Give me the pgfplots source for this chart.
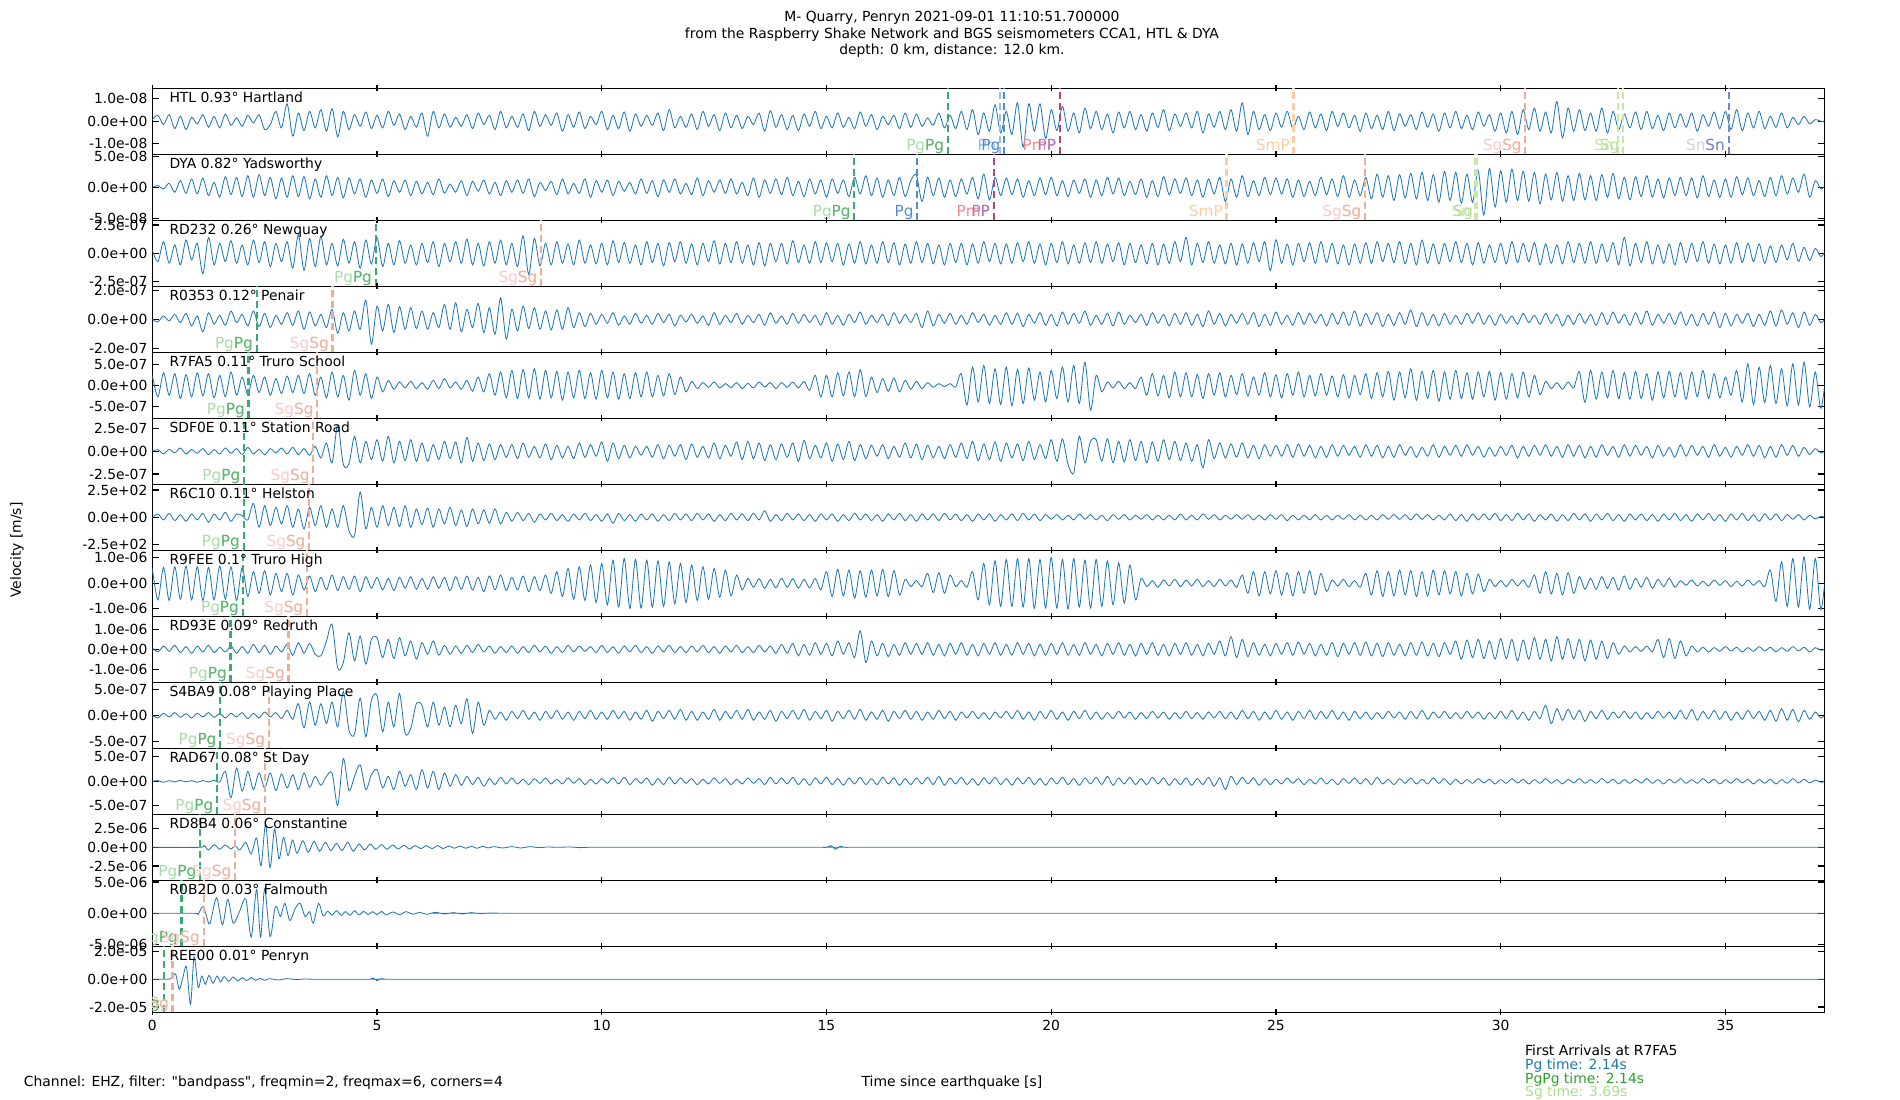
\documentclass[border=0pt]{standalone}
\usepackage{pgfplots}
\pgfplotsset{compat=1.18}
\usepackage{pgfplotstable}
\usepackage{fontspec}
\setmainfont{DejaVu Sans}
\newfontfamily\rawfont{DejaVu Sans}[Ligatures=TeXOff]
\definecolor{tblue}{RGB}{31,119,180}
\definecolor{gline}{RGB}{60,170,110}
\definecolor{gtxtL}{RGB}{165,220,165}
\definecolor{gtxtD}{RGB}{95,180,115}
\definecolor{sline}{RGB}{235,175,150}
\definecolor{stxtL}{RGB}{252,200,200}
\definecolor{stxtD}{RGB}{238,182,160}
\definecolor{pbl}{RGB}{80,140,200}
\definecolor{pblL}{RGB}{150,190,230}
\definecolor{pmpL}{RGB}{240,135,145}
\definecolor{ppc}{RGB}{175,120,190}
\definecolor{pmpline}{RGB}{175,70,130}
\definecolor{smp}{RGB}{253,205,160}
\definecolor{sgL}{RGB}{200,232,170}
\definecolor{sgD}{RGB}{180,222,150}
\definecolor{snL}{RGB}{215,205,235}
\definecolor{snD}{RGB}{115,140,190}
\definecolor{pgpgfoot}{RGB}{44,160,44}
\definecolor{sgfoot}{RGB}{170,222,140}
\tikzset{
  lab/.style={anchor=base east,inner sep=0pt,xshift=-2.5pt,yshift=2.6pt,font=\fontsize{11}{13}\selectfont},
  stname/.style={anchor=base west,inner sep=0pt,xshift=12.2pt,yshift=-10.2pt},
}
\pgfplotsset{
  panel/.style={
    scale only axis,width=1203.8pt,height=47.52pt,
    xmin=0,xmax=37.2,ymin=-100,ymax=100,
    anchor=north west,
    axis line style={line width=0.8pt},
    every tick/.style={black,line width=0.8pt},
    major tick length=4.5pt,
    xtick={0,5,10,15,20,25,30,35},xticklabels={},
    xtick pos=both,xtick align=center,
    ytick pos=both,ytick align=inside,
    font=\fontsize{10}{12}\selectfont,
    tick label style={font=\fontsize{10}{12}\selectfont},
  },
  trace/.style={tblue,line width=0.6pt,no markers,smooth,tension=0.5},
  gl/.style={gline,line width=1.5pt,dash pattern=on 5.5pt off 2.4pt},
  sl/.style={sline,line width=1.5pt,dash pattern=on 5.5pt off 2.4pt},
  vl/.style={line width=1.5pt,dash pattern=on 5.5pt off 2.4pt},
}
\newcommand{\pgsg}[2]{%
  \addplot[gl] coordinates {(#1,-100)(#1,100)};
  \addplot[sl] coordinates {(#2,-100)(#2,100)};
  \node[lab,text=gtxtL] at (axis cs:#1,-100) {PgPg};
  \node[lab,text=gtxtD] at (axis cs:#1,-100) {Pg};
  \node[lab,text=stxtL] at (axis cs:#2,-100) {SgSg};
  \node[lab,text=stxtD] at (axis cs:#2,-100) {Sg};}

% sampled every 0.125 s, amplitudes in percent of half panel height
\pgfplotstableread[header=false,row sep=\\]{
5\\18\\-10\\20\\-22\\15\\-25\\12\\
-8\\20\\-18\\15\\-20\\22\\-12\\10\\
-15\\18\\-5\\20\\-25\\-10\\30\\-20\\
53\\-45\\25\\-28\\30\\-20\\35\\-30\\
38\\-47\\30\\-25\\20\\-15\\28\\-22\\
18\\-20\\30\\-12\\22\\-25\\15\\-18\\
25\\-45\\30\\-20\\22\\-18\\12\\-15\\
20\\-22\\25\\-10\\18\\-25\\30\\-20\\
15\\-18\\22\\-28\\30\\-15\\20\\-12\\
25\\-30\\20\\-18\\28\\-22\\15\\-10\\
30\\-25\\18\\-22\\28\\-30\\22\\-15\\
18\\-12\\25\\-28\\35\\-20\\15\\-18\\
22\\-25\\30\\-15\\20\\-28\\25\\-20\\
18\\-22\\15\\-10\\25\\-30\\32\\-18\\
20\\-25\\18\\-28\\22\\-15\\30\\-22\\
15\\-20\\25\\-18\\12\\-22\\28\\-15\\
20\\-25\\15\\-10\\18\\-22\\25\\-18\\
22\\-15\\10\\-12\\25\\-20\\18\\-22\\
30\\-25\\35\\-40\\25\\-30\\50\\-35\\
30\\-40\\56\\-78\\53\\-30\\53\\-52\\
35\\-28\\45\\-30\\25\\-35\\40\\-22\\
30\\-25\\22\\-35\\28\\-20\\30\\-25\\
20\\-30\\25\\-18\\35\\-28\\22\\-15\\
25\\-20\\30\\-35\\22\\-18\\30\\-25\\
35\\-30\\56\\-40\\30\\-25\\20\\-28\\
25\\-18\\30\\-22\\15\\-25\\28\\-20\\
22\\-28\\30\\-15\\25\\-20\\18\\-30\\
25\\-22\\18\\-25\\30\\-28\\22\\-15\\
20\\-25\\28\\-18\\22\\-30\\25\\-20\\
30\\-22\\18\\-25\\28\\-15\\20\\-30\\
25\\-35\\30\\-40\\35\\-25\\40\\-30\\
28\\-35\\60\\-50\\40\\-30\\35\\-28\\
25\\-30\\40\\-35\\30\\-25\\22\\-20\\
28\\-25\\30\\-22\\18\\-28\\25\\-20\\
22\\-18\\25\\-30\\20\\-15\\28\\-22\\
30\\-25\\35\\-28\\25\\-20\\30\\-22\\
15\\-18\\25\\-20\\12\\-10\\15\\-8\\
5\\0\\-3\\
}\htl
\pgfplotstableread[header=false,row sep=\\]{
0\\5\\-5\\12\\-15\\20\\-18\\25\\
-20\\28\\-25\\15\\-30\\32\\-22\\30\\
-28\\35\\-30\\38\\-25\\30\\-35\\28\\
-30\\35\\-28\\32\\-35\\25\\-30\\35\\
-25\\30\\-32\\28\\-20\\25\\-30\\22\\
-18\\25\\-28\\20\\-15\\22\\-25\\18\\
-20\\15\\-22\\25\\-18\\10\\-15\\20\\
-25\\18\\-12\\22\\-20\\15\\-25\\20\\
-15\\22\\-18\\25\\-28\\15\\-10\\18\\
-22\\25\\-20\\12\\-18\\25\\-30\\20\\
-15\\22\\-25\\18\\-12\\15\\-20\\25\\
-18\\20\\-28\\22\\-15\\25\\-20\\12\\
-22\\28\\-25\\20\\-15\\22\\-18\\25\\
-20\\15\\-25\\28\\-30\\22\\-18\\25\\
-22\\30\\-25\\18\\-28\\25\\-20\\22\\
-30\\25\\-18\\22\\-28\\30\\-20\\35\\
-25\\28\\-30\\22\\-25\\30\\-28\\20\\
37\\-43\\30\\-25\\28\\-30\\22\\-28\\
25\\-20\\30\\-35\\40\\-38\\30\\-25\\
28\\-22\\25\\-30\\20\\-25\\28\\-22\\
30\\-25\\20\\-28\\22\\-18\\25\\-30\\
22\\-25\\30\\-20\\28\\-25\\18\\-22\\
25\\-30\\20\\-28\\32\\-22\\25\\-18\\
28\\-25\\22\\-30\\25\\-20\\30\\-43\\
25\\-30\\35\\-28\\20\\-25\\30\\-22\\
28\\-20\\25\\-30\\22\\-28\\18\\-25\\
30\\-22\\25\\-28\\35\\-30\\22\\-25\\
30\\-35\\40\\-30\\35\\-40\\38\\-32\\
42\\-35\\45\\-40\\38\\-45\\48\\-40\\
45\\-48\\40\\-45\\50\\-84\\57\\-60\\
50\\-45\\55\\-40\\48\\-42\\45\\-50\\
40\\-38\\45\\-42\\35\\-40\\42\\-38\\
35\\-40\\38\\-30\\42\\-35\\30\\-38\\
32\\-28\\35\\-30\\25\\-32\\28\\-25\\
30\\-25\\28\\-32\\35\\-28\\22\\-30\\
25\\-30\\32\\-22\\28\\-25\\20\\-28\\
30\\-25\\35\\-20\\28\\-15\\40\\-30\\
20\\-5\\10\\
}\dya
\pgfplotstableread[header=false,row sep=\\]{
10\\-25\\35\\-30\\25\\-35\\40\\-20\\
30\\-62\\48\\-35\\30\\-25\\38\\-30\\
25\\-35\\40\\-28\\35\\-40\\30\\-25\\
35\\-45\\56\\-52\\45\\-40\\50\\-35\\
30\\-38\\42\\-30\\35\\-45\\40\\-32\\
48\\-40\\30\\-35\\38\\-30\\25\\-35\\
30\\-28\\35\\-40\\30\\-25\\35\\-30\\
43\\-35\\30\\-38\\35\\-30\\40\\-35\\
30\\-40\\53\\-64\\45\\-38\\30\\-35\\
35\\-30\\28\\-35\\40\\-30\\25\\-32\\
30\\-35\\38\\-28\\32\\-30\\25\\-35\\
35\\-28\\30\\-38\\32\\-25\\35\\-30\\
28\\-35\\30\\-25\\38\\-32\\30\\-28\\
35\\-30\\25\\-35\\32\\-38\\30\\-25\\
30\\-32\\38\\-28\\25\\-30\\35\\-28\\
32\\-25\\30\\-35\\28\\-30\\35\\-32\\
25\\-30\\35\\-28\\32\\-35\\28\\-30\\
35\\-28\\30\\-32\\25\\-35\\30\\-28\\
30\\-35\\28\\-30\\35\\-25\\30\\-32\\
28\\-30\\32\\-25\\35\\-30\\28\\-35\\
30\\-28\\35\\-32\\25\\-30\\32\\-28\\
35\\-30\\28\\-25\\32\\-35\\30\\-28\\
25\\-32\\30\\-35\\28\\-30\\35\\-25\\
48\\-35\\30\\-28\\35\\-30\\25\\-32\\
30\\-35\\28\\-30\\32\\-25\\35\\-52\\
41\\-30\\28\\-35\\30\\-25\\32\\-30\\
35\\-28\\30\\-32\\25\\-35\\28\\-30\\
32\\-30\\35\\-25\\30\\-28\\35\\-32\\
30\\-35\\40\\-30\\28\\-32\\30\\-25\\
35\\-28\\30\\-35\\32\\-30\\25\\-28\\
30\\-32\\35\\-28\\30\\-25\\32\\-35\\
28\\-30\\25\\-32\\35\\-28\\30\\-30\\
35\\-30\\28\\-25\\32\\-35\\48\\-38\\
30\\-28\\35\\-32\\25\\-30\\28\\-35\\
32\\-28\\30\\-25\\35\\-30\\28\\-32\\
25\\-30\\32\\-28\\30\\-25\\28\\-30\\
22\\-28\\25\\-20\\30\\-25\\18\\-22\\
15\\-10\\12\\
}\rdtwo
\pgfplotstableread[header=false,row sep=\\]{
0\\-8\\10\\-5\\15\\-10\\18\\-20\\
10\\-38\\20\\-15\\12\\-18\\25\\-10\\
15\\-20\\25\\-22\\18\\-25\\12\\-15\\
20\\-18\\25\\-30\\22\\-20\\15\\-25\\
30\\-42\\20\\-35\\25\\-30\\58\\-75\\
40\\-35\\45\\-40\\38\\-30\\35\\-28\\
25\\-30\\20\\-25\\45\\-30\\50\\-38\\
30\\-25\\48\\-40\\35\\-45\\65\\-60\\
30\\-35\\40\\-28\\35\\-30\\25\\-32\\
28\\-30\\35\\-25\\20\\-22\\18\\-15\\
15\\-12\\20\\-18\\10\\-15\\18\\-12\\
12\\-15\\18\\-10\\15\\-20\\12\\-8\\
15\\-12\\10\\-18\\20\\-15\\12\\-10\\
18\\-15\\12\\-10\\15\\-18\\20\\-12\\
10\\-15\\18\\-12\\15\\-10\\12\\-18\\
20\\-15\\12\\-18\\15\\-10\\22\\-15\\
12\\-10\\15\\-18\\20\\-12\\15\\-10\\
18\\-25\\25\\-20\\15\\-12\\18\\-15\\
12\\-15\\20\\-10\\15\\-18\\12\\-15\\
20\\-15\\18\\-22\\15\\-12\\20\\-18\\
15\\-20\\22\\-15\\18\\-12\\25\\-18\\
12\\-15\\18\\-20\\22\\-15\\12\\-10\\
15\\-18\\20\\-12\\15\\-20\\18\\-15\\
20\\-18\\15\\-22\\25\\-15\\18\\-20\\
15\\-12\\18\\-15\\20\\-22\\15\\-18\\
22\\-15\\12\\-18\\20\\-15\\18\\-12\\
15\\-20\\18\\-15\\22\\-18\\25\\-20\\
18\\-15\\20\\-22\\15\\-18\\20\\-15\\
28\\-22\\20\\-18\\15\\-20\\18\\-15\\
12\\-15\\18\\-12\\20\\-15\\12\\-18\\
15\\-12\\10\\-15\\18\\-10\\12\\-15\\
18\\-12\\15\\-20\\12\\-15\\18\\-12\\
15\\-18\\20\\-15\\22\\-12\\15\\-18\\
20\\-15\\25\\-18\\15\\-12\\18\\-15\\
22\\-18\\15\\-20\\18\\-15\\22\\-25\\
18\\-20\\15\\-12\\18\\-22\\15\\-18\\
25\\-20\\28\\-15\\20\\-25\\22\\-18\\
15\\-10\\8\\
}\rzero
\pgfplotstableread[header=false,row sep=\\]{
30\\-35\\38\\-30\\35\\-40\\32\\-35\\
38\\-32\\35\\-38\\30\\-35\\40\\-30\\
25\\-28\\30\\-22\\25\\-30\\20\\-25\\
28\\-22\\30\\-25\\35\\-30\\25\\-38\\
40\\-35\\30\\-45\\45\\-30\\35\\-40\\
25\\-20\\15\\-12\\10\\-8\\12\\-10\\
8\\-12\\15\\-10\\20\\-8\\10\\-12\\
15\\-18\\25\\-20\\35\\-30\\40\\-38\\
45\\-40\\48\\-38\\50\\-42\\45\\-38\\
42\\-45\\40\\-38\\45\\-40\\38\\-42\\
45\\-38\\40\\-42\\35\\-40\\38\\-35\\
40\\-35\\30\\-32\\35\\-28\\25\\-20\\
12\\-10\\8\\-6\\10\\-8\\5\\-7\\
8\\-10\\6\\-8\\10\\-5\\8\\-10\\
8\\-6\\10\\-8\\12\\-15\\30\\-35\\
30\\-35\\38\\-32\\40\\-35\\47\\-34\\
25\\-22\\20\\-18\\22\\-20\\15\\-12\\
12\\-10\\8\\-6\\5\\-4\\5\\-5\\
35\\-60\\55\\-50\\60\\-55\\50\\-58\\
55\\-62\\48\\-55\\52\\-45\\40\\-50\\
45\\-40\\55\\-50\\60\\-55\\70\\-75\\
30\\-20\\10\\-8\\12\\-10\\8\\-10\\
25\\-30\\35\\-32\\30\\-38\\40\\-35\\
38\\-35\\32\\-40\\35\\-30\\38\\-35\\
30\\-28\\35\\-32\\25\\-30\\38\\-35\\
32\\-38\\35\\-30\\40\\-35\\30\\-32\\
35\\-30\\28\\-35\\32\\-38\\30\\-28\\
35\\-40\\38\\-35\\42\\-45\\40\\-38\\
50\\-45\\42\\-40\\45\\-48\\40\\-42\\
45\\-40\\38\\-42\\40\\-35\\42\\-45\\
38\\-42\\35\\-38\\40\\-35\\30\\-28\\
12\\-10\\8\\-12\\10\\-8\\41\\-52\\
45\\-42\\40\\-38\\45\\-40\\38\\-42\\
42\\-40\\35\\-45\\40\\-38\\42\\-35\\
38\\-42\\40\\-35\\45\\-40\\35\\-38\\
25\\-30\\45\\-50\\65\\-58\\55\\-52\\
60\\-55\\50\\-62\\65\\-60\\70\\-65\\
40\\-70\\50\\
}\rsevenfa
\pgfplotstableread[header=false,row sep=\\]{
0\\5\\-8\\6\\-5\\10\\-8\\5\\
-6\\8\\-10\\5\\-8\\10\\-6\\8\\
-10\\12\\-8\\6\\-10\\8\\-5\\10\\
-8\\12\\-10\\8\\-12\\15\\-20\\25\\
-35\\80\\-40\\-38\\45\\-35\\30\\-25\\
35\\-30\\45\\-35\\30\\-28\\35\\-30\\
25\\-30\\20\\-25\\30\\-22\\28\\-35\\
42\\-30\\25\\-28\\22\\-25\\20\\-18\\
20\\-22\\25\\-18\\15\\-20\\22\\-25\\
18\\-20\\15\\-22\\25\\-18\\20\\-15\\
28\\-30\\25\\-22\\18\\-20\\15\\-12\\
15\\-18\\20\\-22\\18\\-15\\20\\-25\\
22\\-18\\15\\-20\\25\\-22\\18\\-15\\
28\\-25\\30\\-22\\25\\-28\\20\\-25\\
22\\-18\\25\\-30\\33\\-22\\18\\-20\\
25\\-30\\22\\-25\\30\\-28\\20\\-22\\
18\\-15\\20\\-22\\15\\-18\\25\\-20\\
22\\-25\\18\\-20\\15\\-22\\20\\-18\\
25\\-22\\30\\-28\\22\\-25\\28\\-30\\
25\\-20\\22\\-28\\30\\-25\\20\\-22\\
35\\-30\\37\\-40\\-66\\46\\-35\\30\\
35\\-30\\38\\-35\\30\\-32\\35\\-28\\
30\\-35\\28\\-30\\35\\-25\\30\\-28\\
25\\-30\\20\\-50\\35\\-22\\25\\-20\\
22\\-18\\25\\-20\\18\\-22\\20\\-15\\
18\\-15\\20\\-18\\22\\-15\\18\\-20\\
15\\-18\\20\\-15\\18\\-12\\15\\-18\\
20\\-15\\18\\-20\\15\\-18\\20\\-12\\
15\\-18\\12\\-15\\20\\-18\\15\\-12\\
18\\-15\\20\\-12\\15\\-18\\12\\-15\\
15\\-12\\18\\-20\\15\\-15\\18\\-12\\
20\\-15\\15\\-18\\20\\-15\\18\\-20\\
15\\-18\\20\\-12\\15\\-18\\20\\-15\\
18\\-12\\15\\-20\\18\\-15\\12\\-18\\
20\\-15\\18\\-12\\15\\-18\\20\\-15\\
12\\-18\\15\\-12\\20\\-15\\18\\-20\\
15\\-18\\20\\-12\\18\\-15\\12\\-10\\
8\\-5\\4\\
}\sdf
\pgfplotstableread[header=false,row sep=\\]{
0\\10\\-8\\12\\-10\\8\\-12\\10\\
-8\\12\\-15\\10\\-8\\15\\-12\\10\\
5\\-8\\42\\-30\\35\\-25\\30\\-20\\
35\\-30\\25\\-35\\30\\-25\\35\\-30\\
25\\-30\\35\\-40\\-55\\76\\-35\\30\\
-30\\35\\-25\\30\\-28\\35\\-30\\25\\
-22\\28\\-30\\25\\-20\\30\\-25\\22\\
-28\\25\\-20\\22\\-18\\25\\-20\\15\\
-12\\15\\-10\\12\\-15\\10\\-8\\12\\
-10\\8\\-12\\10\\-8\\12\\-10\\8\\
-12\\10\\-18\\12\\-10\\8\\-12\\10\\
-8\\10\\-12\\8\\-10\\12\\-8\\10\\
-10\\12\\-8\\10\\-12\\8\\-10\\12\\
-8\\10\\-10\\12\\-8\\20\\-12\\8\\
-10\\12\\-8\\10\\-10\\8\\-12\\10\\
-8\\10\\-12\\8\\-10\\12\\-8\\10\\
-10\\8\\-12\\10\\-8\\12\\-10\\8\\
-12\\10\\-8\\10\\-10\\12\\-8\\10\\
-10\\8\\-12\\10\\-8\\10\\-12\\8\\
-8\\10\\-10\\12\\-8\\10\\-10\\8\\
-6\\8\\-8\\6\\-8\\10\\-6\\8\\
-8\\6\\-10\\8\\-6\\8\\-8\\6\\
-6\\8\\-8\\6\\-8\\6\\-8\\10\\
-8\\6\\-8\\10\\-6\\8\\-8\\6\\
-6\\8\\-6\\8\\-8\\6\\-8\\8\\
-6\\8\\-10\\6\\-8\\6\\-8\\8\\
-8\\6\\-8\\6\\-6\\8\\-8\\6\\
-8\\6\\-8\\8\\-6\\8\\-6\\8\\
-8\\10\\-6\\8\\-8\\6\\-8\\10\\
-10\\8\\-12\\10\\-8\\10\\-8\\12\\
-10\\8\\-10\\12\\-8\\10\\-12\\8\\
-8\\10\\-12\\8\\-10\\12\\-8\\10\\
-12\\10\\-8\\12\\-10\\8\\-12\\10\\
-8\\10\\-10\\8\\-12\\10\\-8\\12\\
-10\\8\\-12\\10\\-8\\12\\-10\\8\\
-12\\10\\-8\\12\\-10\\8\\-12\\10\\
-8\\10\\-10\\8\\-6\\8\\-8\\6\\
-5\\3\\-2\\
}\rsixc
\pgfplotstableread[header=false,row sep=\\]{
45\\-50\\48\\-52\\50\\-48\\52\\-50\\
50\\-52\\48\\-50\\52\\-48\\50\\-52\\
48\\-40\\35\\-30\\38\\-35\\30\\-25\\
30\\-35\\25\\-20\\22\\-25\\18\\-20\\
25\\-22\\20\\-18\\22\\-25\\20\\-15\\
18\\-20\\15\\-22\\18\\-15\\20\\-18\\
15\\-18\\20\\-15\\18\\-22\\20\\-18\\
22\\-20\\18\\-25\\22\\-20\\25\\-22\\
18\\-20\\22\\-25\\20\\-22\\25\\-30\\
35\\-40\\45\\-48\\50\\-52\\55\\-58\\
60\\-65\\70\\-72\\75\\-76\\72\\-75\\
70\\-72\\68\\-70\\65\\-62\\60\\-58\\
55\\-52\\50\\-48\\45\\-42\\40\\-38\\
25\\-20\\15\\-12\\14\\-15\\12\\-14\\
15\\-12\\14\\-15\\12\\-14\\15\\-20\\
35\\-40\\42\\-38\\40\\-45\\38\\-42\\
40\\-38\\42\\-40\\38\\-35\\12\\-10\\
8\\-10\\30\\-28\\32\\-30\\25\\-10\\
8\\-12\\35\\-50\\60\\-65\\68\\-70\\
72\\-70\\74\\-72\\75\\-76\\72\\-75\\
78\\-75\\72\\-78\\75\\-72\\70\\-75\\
72\\-70\\68\\-65\\62\\-60\\55\\-50\\
15\\-10\\8\\-12\\10\\-8\\12\\-10\\
10\\-8\\12\\-10\\8\\-10\\12\\-8\\
10\\-12\\25\\-30\\35\\-38\\35\\-32\\
38\\-35\\32\\-38\\35\\-30\\38\\-35\\
30\\-25\\10\\-8\\12\\-10\\8\\-12\\
30\\-35\\38\\-40\\35\\-38\\40\\-35\\
38\\-40\\35\\-38\\40\\-35\\38\\-32\\
35\\-38\\30\\-32\\28\\-25\\12\\-10\\
8\\-10\\12\\-8\\10\\-12\\25\\-30\\
35\\-32\\30\\-35\\32\\-30\\20\\-18\\
15\\-18\\20\\-15\\18\\-20\\22\\-18\\
15\\-12\\18\\-15\\12\\-10\\15\\-12\\
8\\-6\\10\\-8\\6\\-8\\10\\-6\\
8\\-10\\6\\-8\\10\\-6\\8\\-10\\
40\\-55\\65\\-70\\75\\-72\\80\\-78\\
75\\-80\\60\\
}\rninefee
\pgfplotstableread[header=false,row sep=\\]{
5\\-8\\10\\-6\\12\\-10\\8\\-12\\
10\\-8\\12\\-10\\6\\-8\\10\\-12\\
8\\-12\\15\\-10\\12\\-15\\10\\-8\\
15\\-18\\20\\-12\\18\\-15\\-20\\25\\
75\\-57\\-40\\50\\-35\\40\\-45\\30\\
35\\-25\\30\\-28\\35\\-20\\25\\-30\\
20\\-15\\25\\-18\\12\\-15\\10\\-12\\
12\\-10\\15\\-8\\10\\-12\\8\\-10\\
10\\-12\\8\\-10\\12\\-8\\10\\-12\\
8\\-10\\12\\-8\\10\\-6\\8\\-10\\
12\\-10\\8\\-12\\10\\-8\\12\\-10\\
8\\-12\\10\\-8\\12\\-10\\8\\-10\\
10\\-8\\12\\-10\\8\\-12\\10\\-8\\
12\\-10\\8\\-10\\12\\-8\\10\\-12\\
15\\-12\\18\\-20\\15\\-18\\20\\-15\\
18\\-20\\25\\-15\\20\\-25\\56\\-40\\
25\\-20\\18\\-22\\15\\-18\\20\\-15\\
18\\-15\\20\\-18\\15\\-20\\18\\-15\\
20\\-18\\15\\-20\\18\\-15\\20\\-18\\
15\\-18\\20\\-15\\18\\-20\\15\\-18\\
18\\-15\\20\\-18\\15\\-18\\20\\-15\\
15\\-20\\18\\-15\\20\\-18\\15\\-20\\
18\\-15\\20\\-18\\15\\-20\\18\\-15\\
20\\-18\\15\\-20\\18\\-15\\25\\-20\\
38\\-25\\30\\-22\\20\\-18\\15\\-20\\
18\\-15\\20\\-18\\22\\-15\\18\\-20\\
15\\-18\\20\\-22\\18\\-15\\20\\-18\\
22\\-20\\18\\-22\\20\\-18\\15\\-20\\
20\\-18\\22\\-20\\18\\-22\\20\\-15\\
25\\-30\\28\\-25\\30\\-28\\25\\-30\\
32\\-28\\30\\-35\\28\\-30\\35\\-30\\
30\\-35\\38\\-30\\32\\-28\\30\\-35\\
28\\-30\\25\\-28\\20\\-15\\10\\-8\\
8\\-6\\10\\-8\\30\\-25\\32\\-28\\
25\\-20\\10\\-8\\6\\-8\\5\\-6\\
8\\-5\\6\\-8\\5\\-6\\8\\-5\\
6\\-8\\5\\-6\\8\\-5\\6\\-8\\
5\\-3\\2\\
}\rdnine
\pgfplotstableread[header=false,row sep=\\]{
0\\-8\\6\\-5\\8\\-6\\5\\-8\\
6\\-5\\8\\-6\\5\\-8\\6\\-5\\
8\\-10\\6\\-8\\10\\-5\\8\\-10\\
15\\-12\\35\\-38\\40\\-30\\35\\-25\\
40\\-35\\72\\-45\\-57\\52\\-65\\45\\
60\\-50\\40\\-35\\66\\-55\\-40\\35\\
30\\-35\\40\\-30\\25\\-35\\30\\-25\\
50\\-55\\40\\-30\\15\\-12\\10\\-15\\
12\\-10\\15\\-12\\10\\-15\\12\\-10\\
15\\-12\\10\\-15\\12\\-10\\15\\-12\\
10\\-12\\15\\-10\\12\\-15\\10\\-12\\
15\\-18\\12\\-10\\15\\-12\\18\\-15\\
12\\-15\\10\\-12\\18\\-15\\12\\-10\\
15\\-12\\18\\-15\\10\\-12\\15\\-18\\
12\\-10\\15\\-12\\18\\-15\\12\\-10\\
15\\-18\\12\\-10\\15\\-12\\18\\-15\\
10\\-12\\15\\-18\\12\\-10\\15\\-12\\
12\\-15\\10\\-12\\15\\-10\\12\\-15\\
10\\-8\\12\\-10\\8\\-12\\10\\-8\\
12\\-10\\15\\-12\\10\\-15\\12\\-10\\
15\\-12\\10\\-15\\12\\-10\\15\\-12\\
10\\-12\\8\\-10\\12\\-8\\10\\-12\\
8\\-10\\12\\-8\\10\\-12\\8\\-10\\
12\\-10\\8\\-12\\10\\-8\\12\\-10\\
10\\-12\\15\\-10\\12\\-15\\10\\-12\\
15\\-12\\10\\-15\\12\\-10\\15\\-12\\
12\\-10\\15\\-12\\10\\-15\\12\\-10\\
10\\-12\\8\\-10\\12\\-8\\10\\-12\\
12\\-10\\15\\-12\\10\\-8\\12\\-10\\
8\\-10\\12\\-8\\10\\-12\\8\\-10\\
12\\-10\\15\\-12\\10\\-15\\12\\-10\\
30\\-25\\20\\-15\\18\\-12\\15\\-18\\
12\\-10\\15\\-12\\10\\-8\\12\\-10\\
10\\-12\\8\\-10\\12\\-8\\10\\-12\\
15\\-12\\18\\-15\\12\\-10\\15\\-12\\
12\\-15\\10\\-12\\15\\-10\\12\\-15\\
15\\-18\\20\\-15\\18\\-20\\15\\-12\\
10\\-8\\6\\
}\sfour
\pgfplotstableread[header=false,row sep=\\]{
0\\2\\-3\\2\\-2\\3\\-2\\2\\
-3\\2\\-2\\3\\-2\\30\\-50\\40\\
-30\\30\\-25\\25\\-20\\25\\-28\\22\\
-20\\20\\-25\\25\\-18\\15\\-12\\15\\
25\\-73\\69\\-28\\15\\50\\-25\\20\\
35\\-20\\15\\-25\\30\\-15\\20\\-25\\
35\\-20\\30\\-25\\25\\-15\\20\\-12\\
15\\-10\\12\\-15\\8\\-10\\12\\-8\\
10\\-8\\6\\-10\\8\\-6\\10\\-8\\
6\\-8\\10\\-6\\8\\-10\\6\\-8\\
8\\-6\\10\\-8\\12\\-10\\8\\-6\\
10\\-12\\8\\-10\\12\\-8\\10\\-6\\
8\\-10\\6\\-8\\10\\-6\\8\\-10\\
6\\-8\\10\\-6\\8\\-10\\12\\-8\\
10\\-8\\12\\-10\\8\\-12\\10\\-8\\
12\\-10\\8\\-12\\10\\-8\\12\\-10\\
8\\-10\\12\\-8\\10\\-12\\8\\-10\\
10\\-8\\12\\-10\\15\\-12\\10\\-8\\
12\\-10\\8\\-12\\10\\-8\\12\\-10\\
8\\-12\\10\\-8\\12\\-10\\8\\-12\\
10\\-8\\12\\-10\\8\\-12\\10\\-8\\
12\\-10\\15\\-12\\10\\-8\\12\\-10\\
8\\-10\\12\\-8\\10\\-12\\8\\-10\\
10\\-12\\8\\-10\\12\\-15\\10\\-25\\
15\\-10\\12\\-8\\10\\-12\\8\\-10\\
6\\-8\\10\\-6\\8\\-10\\6\\-8\\
10\\-8\\6\\-10\\8\\-6\\10\\-8\\
8\\-10\\12\\-8\\6\\-10\\8\\-6\\
10\\-8\\6\\-8\\10\\-6\\8\\-10\\
6\\-8\\5\\-6\\8\\-5\\6\\-8\\
5\\-6\\8\\-5\\6\\-8\\5\\-6\\
8\\-6\\5\\-8\\6\\-5\\8\\-6\\
5\\-6\\8\\-5\\6\\-8\\5\\-6\\
6\\-5\\8\\-6\\5\\-8\\6\\-5\\
8\\-6\\5\\-6\\8\\-5\\6\\-8\\
5\\-6\\8\\-5\\6\\-8\\5\\-6\\
6\\-8\\5\\-6\\8\\-5\\6\\-5\\
4\\-3\\2\\
}\radsix

\begin{document}
\begin{tikzpicture}
\path[use as bounding box] (0,0) rectangle (1368pt,792pt);

% 1 HTL
\begin{axis}[panel,at={(109.66pt,728.42pt)},ytick={-68.2,0,68.2},yticklabels={-1.0e-08,0.0e+00,1.0e-08}]
\addplot[trace] table[x expr=\coordindex*0.125,y index=0]{\htl};
\addplot[vl,gline] coordinates {(17.70,-100)(17.70,100)};
\addplot[vl,pblL] coordinates {(18.86,-100)(18.86,100)};
\addplot[vl,pbl] coordinates {(18.95,-100)(18.95,100)};
\addplot[vl,pmpline] coordinates {(20.19,-100)(20.19,100)};
\addplot[vl,smp] coordinates {(25.39,-100)(25.39,100)};
\addplot[vl,sline] coordinates {(30.55,-100)(30.55,100)};
\addplot[vl,sgL] coordinates {(32.60,-100)(32.60,100)};
\addplot[vl,sgL] coordinates {(32.72,-100)(32.72,100)};
\addplot[vl,snD] coordinates {(35.07,-100)(35.07,100)};
\node[lab,text=gtxtL] at (axis cs:17.70,-100) {PgPg};
\node[lab,text=gtxtD] at (axis cs:17.70,-100) {Pg};
\node[lab,text=pblL] at (axis cs:18.86,-100) {Pn};
\node[lab,text=pbl] at (axis cs:18.95,-100) {Pg};
\node[lab,text=pmpL] at (axis cs:20.19,-100) {PmP};
\node[lab,text=ppc] at (axis cs:20.19,-100) {PP};
\node[lab,text=smp] at (axis cs:25.39,-100) {SmP};
\node[lab,text=stxtL] at (axis cs:30.55,-100) {SgSg};
\node[lab,text=stxtD] at (axis cs:30.55,-100) {Sg};
\node[lab,text=sgL] at (axis cs:32.60,-100) {Sn};
\node[lab,text=sgD] at (axis cs:32.72,-100) {Sg};
\node[lab,text=snL] at (axis cs:35.07,-100) {SnSn};
\node[lab,text=snD] at (axis cs:35.07,-100) {Sn};
\node[stname] at (rel axis cs:0,1) {HTL 0.93° Hartland};
\end{axis}

% 2 DYA
\begin{axis}[panel,at={(109.66pt,680.90pt)},ytick={-93.9,0,93.9},yticklabels={-5.0e-08,0.0e+00,5.0e-08}]
\addplot[trace] table[x expr=\coordindex*0.125,y index=0]{\dya};
\addplot[vl,gline] coordinates {(15.62,-100)(15.62,100)};
\addplot[vl,pbl] coordinates {(17.02,-100)(17.02,100)};
\addplot[vl,pmpline] coordinates {(18.72,-100)(18.72,100)};
\addplot[vl,smp] coordinates {(23.90,-100)(23.90,100)};
\addplot[vl,sline] coordinates {(26.98,-100)(26.98,100)};
\addplot[vl,sgL] coordinates {(29.42,-100)(29.42,100)};
\addplot[vl,sgL] coordinates {(29.47,-100)(29.47,100)};
\node[lab,text=gtxtL] at (axis cs:15.62,-100) {PgPg};
\node[lab,text=gtxtD] at (axis cs:15.62,-100) {Pg};
\node[lab,text=pbl] at (axis cs:17.02,-100) {Pg};
\node[lab,text=pmpL] at (axis cs:18.72,-100) {PmP};
\node[lab,text=ppc] at (axis cs:18.72,-100) {PP};
\node[lab,text=smp] at (axis cs:23.90,-100) {SmP};
\node[lab,text=stxtL] at (axis cs:26.98,-100) {SgSg};
\node[lab,text=stxtD] at (axis cs:26.98,-100) {Sg};
\node[lab,text=sgL] at (axis cs:29.42,-100) {Sn};
\node[lab,text=sgD] at (axis cs:29.47,-100) {Sg};
\node[stname] at (rel axis cs:0,1) {DYA 0.82° Yadsworthy};
\end{axis}

% 3 RD232
\begin{axis}[panel,at={(109.66pt,633.38pt)},ytick={-85.8,0,85.8},yticklabels={-2.5e-07,0.0e+00,2.5e-07}]
\addplot[trace] table[x expr=\coordindex*0.125,y index=0]{\rdtwo};
\pgsg{4.97}{8.65}
\node[stname] at (rel axis cs:0,1) {RD232 0.26° Newquay};
\end{axis}

% 4 R0353
\begin{axis}[panel,at={(109.66pt,585.86pt)},ytick={-88.4,0,88.4},yticklabels={-2.0e-07,0.0e+00,2.0e-07}]
\addplot[trace] table[x expr=\coordindex*0.125,y index=0]{\rzero};
\pgsg{2.32}{4.01}
\node[stname] at (rel axis cs:0,1) {R0353 0.12° Penair};
\end{axis}

% 5 R7FA5
\begin{axis}[panel,at={(109.66pt,538.34pt)},ytick={-64.1,0,64.1},yticklabels={-5.0e-07,0.0e+00,5.0e-07}]
\addplot[trace] table[x expr=\coordindex*0.125,y index=0]{\rsevenfa};
\pgsg{2.14}{3.67}
\node[stname] at (rel axis cs:0,1) {R7FA5 0.11° Truro School};
\end{axis}

% 6 SDF0E
\begin{axis}[panel,at={(109.66pt,490.82pt)},ytick={-68.7,0,68.7},yticklabels={-2.5e-07,0.0e+00,2.5e-07}]
\addplot[trace] table[x expr=\coordindex*0.125,y index=0]{\sdf};
\pgsg{2.04}{3.58}
\node[stname] at (rel axis cs:0,1) {SDF0E 0.11° Station Road};
\end{axis}

% 7 R6C10
\begin{axis}[panel,at={(109.66pt,443.30pt)},ytick={-82.6,0,82.6},yticklabels={-2.5e+02,0.0e+00,2.5e+02}]
\addplot[trace] table[x expr=\coordindex*0.125,y index=0]{\rsixc};
\pgsg{2.03}{3.49}
\node[stname] at (rel axis cs:0,1) {R6C10 0.11° Helston};
\end{axis}

% 8 R9FEE
\begin{axis}[panel,at={(109.66pt,395.78pt)},ytick={-76.9,0,76.9},yticklabels={-1.0e-06,0.0e+00,1.0e-06}]
\addplot[trace] table[x expr=\coordindex*0.125,y index=0]{\rninefee};
\pgsg{2.01}{3.44}
\node[stname] at (rel axis cs:0,1) {R9FEE 0.1° Truro High};
\end{axis}

% 9 RD93E
\begin{axis}[panel,at={(109.66pt,348.26pt)},ytick={-61.1,0,61.1},yticklabels={-1.0e-06,0.0e+00,1.0e-06}]
\addplot[trace] table[x expr=\coordindex*0.125,y index=0]{\rdnine};
\pgsg{1.74}{3.03}
\node[stname] at (rel axis cs:0,1) {RD93E 0.09° Redruth};
\end{axis}

% 10 S4BA9
\begin{axis}[panel,at={(109.66pt,300.74pt)},ytick={-78.3,0,78.3},yticklabels={-5.0e-07,0.0e+00,5.0e-07}]
\addplot[trace] table[x expr=\coordindex*0.125,y index=0]{\sfour};
\pgsg{1.51}{2.59}
\node[stname] at (rel axis cs:0,1) {S4BA9 0.08° Playing Place};
\end{axis}

% 11 RAD67
\begin{axis}[panel,at={(109.66pt,253.22pt)},ytick={-74.2,0,74.2},yticklabels={-5.0e-07,0.0e+00,5.0e-07}]
\addplot[trace] table[x expr=\coordindex*0.125,y index=0]{\radsix};
\pgsg{1.44}{2.51}
\node[stname] at (rel axis cs:0,1) {RAD67 0.08° St Day};
\end{axis}

% 12 RD8B4
\begin{axis}[panel,at={(109.66pt,205.70pt)},ytick={-56.5,0,56.5},yticklabels={-2.5e-06,0.0e+00,2.5e-06}]
\addplot[trace] coordinates {(0,0) (1.05,0) (1.15,6) (1.25,-8) (1.38,8) (1.5,-6) (1.62,7) (1.75,-5) (1.85,4) (1.95,-8) (2.08,15) (2.2,-20) (2.32,28) (2.42,-56) (2.52,70) (2.62,-62) (2.72,55) (2.82,-35) (2.92,30) (3.02,-25) (3.12,22) (3.22,-18) (3.35,20) (3.47,-15) (3.6,18) (3.72,-12) (3.85,15) (3.97,-10) (4.1,12) (4.22,-10) (4.35,15) (4.47,-12) (4.6,10) (4.72,-8) (4.85,10) (4.97,-6) (5.1,8) (5.22,-6) (5.35,7) (5.47,-5) (5.6,6) (5.72,-5) (5.85,5) (5.97,-4) (6.1,5) (6.22,-4) (6.35,5) (6.47,-4) (6.6,4) (6.72,-3) (6.85,4) (6.97,-3) (7.1,3) (7.22,-3) (7.35,3) (7.47,-2) (7.6,2) (7.8,-2) (8.0,2) (8.2,-2) (8.4,2) (8.6,-1) (8.8,1) (9.0,0) (9.3,1) (9.5,-1) (9.7,0) (10.0,0) (14.6,0) (14.9,0) (15.0,0) (15.1,5) (15.2,-6) (15.3,3) (15.4,0) (15.5,0) (15.8,0) (37.2,0)};
\pgsg{1.06}{1.84}
\node[stname] at (rel axis cs:0,1) {RD8B4 0.06° Constantine};
\end{axis}

% 13 R0B2D
\begin{axis}[panel,at={(109.66pt,158.18pt)},ytick={-95,0,95},yticklabels={-5.0e-06,0.0e+00,5.0e-06}]
\addplot[trace] coordinates {(0,0) (0.95,0) (1.02,-3) (1.12,20) (1.2,-5) (1.28,-32) (1.43,47) (1.56,-35) (1.68,42) (1.8,-30) (1.94,5) (2.08,44) (2.2,-72) (2.32,72) (2.41,-72) (2.5,74) (2.62,-70) (2.72,10) (2.77,20) (2.85,-10) (2.95,30) (3.06,-22) (3.18,15) (3.29,30) (3.4,-10) (3.5,5) (3.58,-30) (3.7,30) (3.8,-8) (3.9,6) (4.0,-5) (4.1,8) (4.2,-6) (4.3,5) (4.4,-6) (4.5,8) (4.6,-5) (4.7,6) (4.8,-4) (4.9,5) (5.0,-4) (5.1,6) (5.2,-5) (5.35,4) (5.5,-4) (5.65,5) (5.8,-3) (5.95,3) (6.1,-3) (6.3,3) (6.5,-2) (6.7,2) (6.9,-2) (7.1,2) (7.3,-1) (7.5,1) (7.8,0) (8.1,0) (37.2,0)};
\pgsg{0.65}{1.14}
\node[stname] at (rel axis cs:0,1) {R0B2D 0.03° Falmouth};
\end{axis}

% 14 REE00
\begin{axis}[panel,at={(109.66pt,110.66pt)},ytick={-84,0,84},yticklabels={-2.0e-05,0.0e+00,2.0e-05},xticklabels={0,5,10,15,20,25,30,35}]
\addplot[trace] coordinates {(0,0) (0.3,0) (0.38,0) (0.45,8) (0.52,15) (0.6,-30) (0.68,5) (0.76,38) (0.85,-76) (0.93,68) (1.02,-25) (1.1,10) (1.18,-15) (1.26,12) (1.35,-12) (1.44,10) (1.52,-8) (1.6,8) (1.7,-6) (1.8,7) (1.9,-5) (2.0,5) (2.1,-4) (2.2,5) (2.3,-3) (2.4,3) (2.5,-3) (2.6,2) (2.8,-2) (3.0,2) (3.2,-1) (3.4,1) (3.6,0) (3.9,0) (4.5,0) (4.78,0) (4.85,0) (4.92,4) (5.0,-4) (5.08,2) (5.2,0) (5.3,0) (5.6,0) (37.2,0)};
\pgsg{0.25}{0.45}
\node[stname] at (rel axis cs:0,1) {REE00 0.01° Penryn};
\end{axis}

% figure texts
\node[anchor=base] at (685.4pt,776.2pt) {M- Quarry, Penryn 2021-09-01 11:10:51.700000};
\node[anchor=base] at (685.4pt,764.6pt) {from the Raspberry Shake Network and BGS seismometers CCA1, HTL \& DYA};
\node[anchor=base] at (685.4pt,753.1pt) {depth: 0 km, distance: 12.0 km.};
\node[rotate=90,anchor=center] at (12.2pt,396pt) {Velocity [m/s]};
\node[anchor=base west,font=\rawfont] at (13.7pt,9.7pt) {Channel: EHZ, filter: "bandpass", freqmin=2, freqmax=6, corners=4};
\node[anchor=base] at (685.4pt,9.7pt) {Time since earthquake [s]};
\node[anchor=base west] at (1094.6pt,31.9pt) {First Arrivals at R7FA5};
\node[anchor=base west,text=tblue] at (1094.6pt,22.3pt) {Pg time: 2.14s};
\node[anchor=base west,text=pgpgfoot] at (1094.6pt,12.2pt) {PgPg time: 2.14s};
\node[anchor=base west,text=sgfoot] at (1094.6pt,2.4pt) {Sg time: 3.69s};
\end{tikzpicture}
\end{document}
